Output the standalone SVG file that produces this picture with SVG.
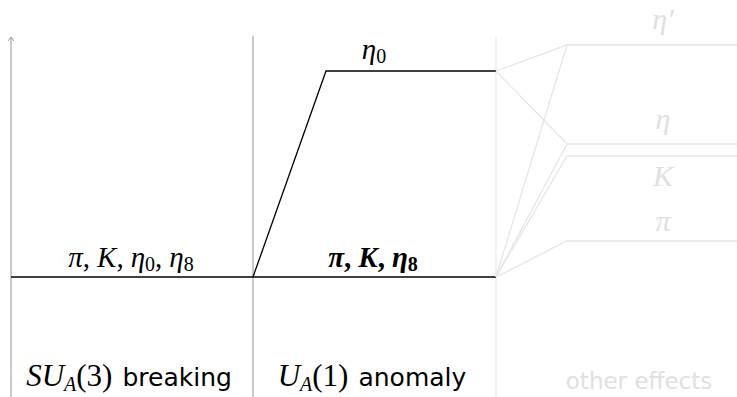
<svg xmlns="http://www.w3.org/2000/svg" width="737" height="397" viewBox="0 0 737 397">
<style>
.m{font-family:"Liberation Serif",serif;font-size:29px;text-anchor:middle}
.c{font-size:31px}
.gl{font-size:30px}
.i{font-style:italic}
.s{font-family:"DejaVu Sans","Liberation Sans",sans-serif;font-size:25px;font-style:normal}
.oe{font-size:23px;text-anchor:middle}
.sub{font-size:20px}
.dark{fill:#000}
.ghost{fill:#e0e0e0}
.g{stroke:#b8b8b8;stroke-width:1.5;fill:none}
.l{stroke:#e6e6e6;stroke-width:1.3;fill:none}
.k{stroke:#000;stroke-width:1.3;fill:none}
</style>
<defs>
<marker id="ar" markerWidth="8" markerHeight="8" refX="7" refY="4" orient="auto" markerUnits="userSpaceOnUse" viewBox="0 0 8 8">
<path d="M3,1 L7,4 L3,7" fill="none" stroke="#9a9a9a" stroke-width="1"/>
</marker>
</defs>
<g id="connectors">
<line class="g" x1="11" y1="397" x2="11" y2="37" marker-end="url(#ar)"/>
<line class="g" x1="253" y1="36" x2="253" y2="397"/>
<line x1="496" y1="36" x2="496" y2="397" stroke="#eeeeee" stroke-width="1.5"/>
<line class="k" x1="11" y1="277" x2="496" y2="277"/>
<polyline class="k" points="253,277 326,71 496,71"/>
<polyline class="l" points="496,71 567,45 737,45"/>
<polyline class="l" points="496,71 567,144 737,144"/>
<line class="l" x1="496" y1="277" x2="567" y2="45"/>
<line class="l" x1="496" y1="277" x2="567" y2="144"/>
<polyline class="l" points="496,277 567,156 737,156"/>
<polyline class="l" points="496,277 567,241 737,241"/>
</g>
<g id="label-eta0">
<text class="m dark" x="374" y="59"><tspan class="i">η</tspan><tspan class="sub" dy="4">0</tspan></text>
</g>
<g id="label-left">
<text class="m dark" x="131" y="267"><tspan class="i">π</tspan>,<tspan class="i" dx="7">K</tspan>,<tspan class="i" dx="7">η</tspan><tspan class="sub" dy="4">0</tspan><tspan dy="-4">,</tspan><tspan class="i" dx="7">η</tspan><tspan class="sub" dy="4">8</tspan></text>
</g>
<g id="label-mid">
<text class="m dark" x="373" y="267" font-weight="bold"><tspan class="i">π</tspan>,<tspan class="i" dx="7">K</tspan>,<tspan class="i" dx="7">η</tspan><tspan class="sub" dy="4">8</tspan></text>
</g>
<g id="label-right">
<text class="m gl ghost i" x="663" y="29">η′</text>
<text class="m gl ghost i" x="663" y="129">η</text>
<text class="m gl ghost i" x="663" y="186">K</text>
<text class="m gl ghost i" x="663" y="231">π</text>
</g>
<g id="caption-su3">
<text class="m c dark" x="129" y="386"><tspan class="i">SU</tspan><tspan class="sub i" dy="5">A</tspan><tspan dy="-5">(3)</tspan><tspan class="s" dx="10">breaking</tspan></text>
</g>
<g id="caption-ua1">
<text class="m c dark" x="372" y="386"><tspan class="i">U</tspan><tspan class="sub i" dy="5">A</tspan><tspan dy="-5">(1)</tspan><tspan class="s" dx="10">anomaly</tspan></text>
</g>
<g id="caption-other">
<text class="s oe ghost" x="639" y="389">other effects</text>
</g>
</svg>
